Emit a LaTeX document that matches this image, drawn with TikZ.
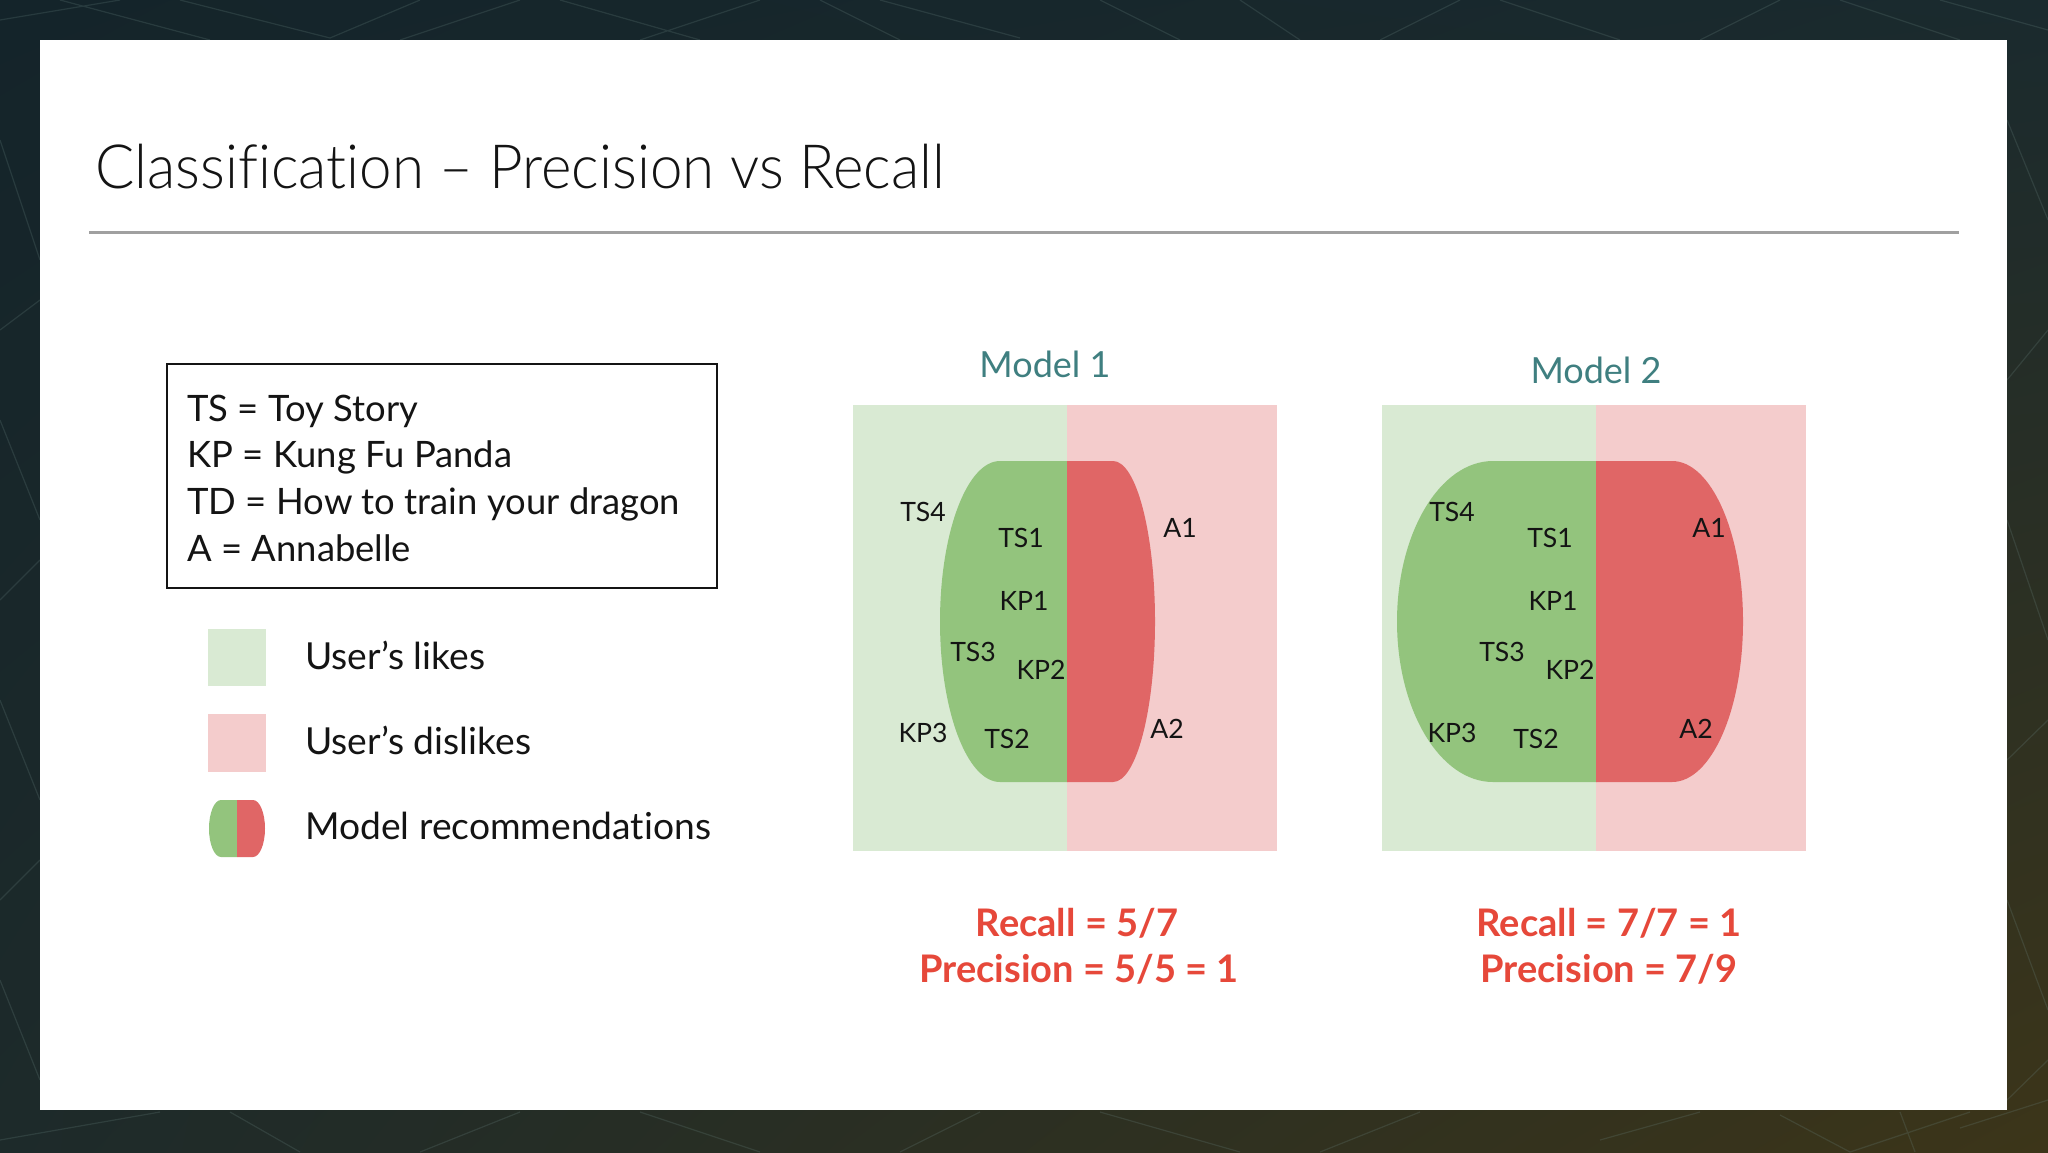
\documentclass[tikz,border=0pt]{standalone}
\usepackage{fontspec}
\usetikzlibrary{shadings}
\setmainfont{Lato}[Ligatures={TeX,NoCommon}]
\IfFontExistsTF{Lato Light}{\newfontfamily\titlefont{Lato Light}[Ligatures={TeX,NoCommon}]}{\newfontfamily\titlefont{Lato}[Ligatures={TeX,NoCommon}]}
\definecolor{bgA}{HTML}{14242A}
\definecolor{bgB}{HTML}{1A2A2E}
\definecolor{bgC}{HTML}{1D2A2A}
\definecolor{bgD}{HTML}{3C3519}
\definecolor{webline}{HTML}{6E8A86}
\definecolor{likelight}{HTML}{D9EAD3}
\definecolor{dislikelight}{HTML}{F4CCCC}
\definecolor{pillgreen}{HTML}{93C47D}
\definecolor{pillred}{HTML}{E06666}
\definecolor{teal}{HTML}{3F7F80}
\definecolor{scorered}{HTML}{E6483A}
\definecolor{rulegray}{HTML}{A0A0A0}
\definecolor{ink}{HTML}{141414}
% left half of a recommendation pill: split x, flat start, x radius, top, bottom
\newcommand{\pillleft}[5]{(#1,#4) -- (#2,#4) .. controls ({#2-0.5523*#3},#4) and ({#2-#3},{(#4+#5)/2-0.5523*(#5-#4)/2}) .. ({#2-#3},{(#4+#5)/2}) .. controls ({#2-#3},{(#4+#5)/2+0.5523*(#5-#4)/2}) and ({#2-0.5523*#3},#5) .. (#2,#5) -- (#1,#5) -- cycle}
% right half: split x, flat end, x radius, top, bottom
\newcommand{\pillright}[5]{(#1,#4) -- (#2,#4) .. controls ({#2+0.5523*#3},#4) and ({#2+#3},{(#4+#5)/2-0.5523*(#5-#4)/2}) .. ({#2+#3},{(#4+#5)/2}) .. controls ({#2+#3},{(#4+#5)/2+0.5523*(#5-#4)/2}) and ({#2+0.5523*#3},#5) .. (#2,#5) -- (#1,#5) -- cycle}
\tikzset{
  titletext/.style={anchor=base west, inner sep=0pt, text=ink, font=\titlefont\fontsize{30.5}{36}\selectfont},
  bodytext/.style={anchor=base west, inner sep=0pt, text=ink, font=\fontsize{18.2}{22}\selectfont},
  legendtext/.style={anchor=base west, inner sep=0pt, text=ink, font=\fontsize{18.6}{22}\selectfont},
  modeltitle/.style={anchor=base, inner sep=0pt, text=teal, font=\fontsize{18}{22}\selectfont},
  itemlabel/.style={anchor=center, inner sep=0pt, text=ink, font=\fontsize{13.3}{16}\selectfont},
  scoretext/.style={anchor=base, inner sep=0pt, text=scorered, font=\bfseries\fontsize{19}{23}\selectfont},
  keybox/.style={draw=ink, line width=1pt},
  web/.style={draw=webline, draw opacity=0.22, line width=0.6pt}
}
\begin{document}
\begin{tikzpicture}[x=0.5pt, y=-0.5pt]
\useasboundingbox (0,0) rectangle (2048,1152);
% background
\shade[upper left=bgA, upper right=bgB, lower left=bgC, lower right=bgD] (0,0) rectangle (2048,1152);
% faint web texture on the frame
\draw[web] (0,20) -- (120,0) (60,0) -- (210,40) (180,0) -- (330,38) -- (420,0)
  (400,40) -- (520,0) (560,0) -- (700,40) (640,40) -- (760,0) (820,0) -- (900,40)
  (880,0) -- (1020,38) (1100,0) -- (1180,40) (1240,0) -- (1300,40) (1380,40) -- (1460,0)
  (1500,0) -- (1620,40) (1700,40) -- (1780,0) (1840,0) -- (1960,40) (1940,0) -- (2048,30);
\draw[web] (0,140) -- (40,260) (0,330) -- (40,300) (0,420) -- (40,520) (0,600) -- (40,560)
  (0,700) -- (40,800) (0,900) -- (40,860) (0,980) -- (40,1080)
  (2007,120) -- (2048,220) (2007,380) -- (2048,330) (2007,520) -- (2048,640)
  (2007,760) -- (2048,720) (2007,900) -- (2048,1010) (2048,1060) -- (2007,1100);
\draw[web] (0,1140) -- (160,1112) (230,1112) -- (300,1152) (420,1152) -- (520,1112)
  (640,1112) -- (760,1152) (900,1152) -- (980,1112) (1100,1112) -- (1240,1152)
  (1320,1152) -- (1420,1112) (1600,1140) -- (1700,1112) (1780,1115) -- (1850,1152)
  (1850,1152) -- (1970,1112) (1960,1128) -- (2048,1100) (1900,1112) -- (1915,1152);
\fill[white] (40,40) rectangle (2007,1110);
% title
\node[titletext] (title) at (95,188) {\scalebox{0.955}[1]{Classification – Precision vs Recall}};
\draw[rulegray, line width=1.5pt] (89,232) -- (1959,232);
% key box
\draw[keybox] (167,364) rectangle (717,588);
\node[bodytext] (ts) at (187,421) {TS = Toy Story};
\node[bodytext] (kp) at (187,467) {KP = Kung Fu Panda};
\node[bodytext] (td) at (187,514) {TD = How to train your dragon};
\node[bodytext] (an) at (187,561) {A = Annabelle};
% legend
\fill[likelight] (208,629) rectangle (266,686);
\fill[dislikelight] (208,714) rectangle (266,772);
\fill[pillgreen] \pillleft{237}{221}{12}{800}{857};
\fill[pillred] \pillright{237}{253}{12}{800}{857};
\node[legendtext] (likes) at (305,669) {User’s likes};
\node[legendtext] (dislikes) at (305,754) {User’s dislikes};
\node[legendtext] (recs) at (305,839) {Model recommendations};
% model 1
\node[modeltitle] (m1) at (1045,377) {Model 1};
\fill[likelight] (853,405) rectangle (1067,851);
\fill[dislikelight] (1067,405) rectangle (1277,851);
\fill[pillgreen] \pillleft{1067.5}{1000}{60}{461}{782};
\fill[pillred] \pillright{1067}{1113}{42}{461}{782};
\node[itemlabel] (m1ts4) at (923,512) {TS4};
\node[itemlabel] (m1ts1) at (1021,538) {TS1};
\node[itemlabel] (m1kp1) at (1024,601) {KP1};
\node[itemlabel] (m1ts3) at (973,652) {TS3};
\node[itemlabel] (m1kp2) at (1041,670) {KP2};
\node[itemlabel] (m1kp3) at (923,733) {KP3};
\node[itemlabel] (m1ts2) at (1007,739) {TS2};
\node[itemlabel] (m1a1) at (1180,528) {A1};
\node[itemlabel] (m1a2) at (1167,729) {A2};
\node[scoretext] (m1rec) at (1077,936) {Recall = 5/7};
\node[scoretext] (m1pre) at (1079,982) {Precision = 5/5 = 1};
% model 2
\node[modeltitle] (m2) at (1596,383) {Model 2};
\fill[likelight] (1382,405) rectangle (1596,851);
\fill[dislikelight] (1596,405) rectangle (1806,851);
\fill[pillgreen] \pillleft{1596.5}{1493}{96}{461}{782};
\fill[pillred] \pillright{1596}{1672}{71}{461}{782};
\node[itemlabel] (m2ts4) at (1452,512) {TS4};
\node[itemlabel] (m2ts1) at (1550,538) {TS1};
\node[itemlabel] (m2kp1) at (1553,601) {KP1};
\node[itemlabel] (m2ts3) at (1502,652) {TS3};
\node[itemlabel] (m2kp2) at (1570,670) {KP2};
\node[itemlabel] (m2kp3) at (1452,733) {KP3};
\node[itemlabel] (m2ts2) at (1536,739) {TS2};
\node[itemlabel] (m2a1) at (1709,528) {A1};
\node[itemlabel] (m2a2) at (1696,729) {A2};
\node[scoretext] (m2rec) at (1609,936) {Recall = 7/7 = 1};
\node[scoretext] (m2pre) at (1609,982) {Precision = 7/9};
\end{tikzpicture}
\end{document}
